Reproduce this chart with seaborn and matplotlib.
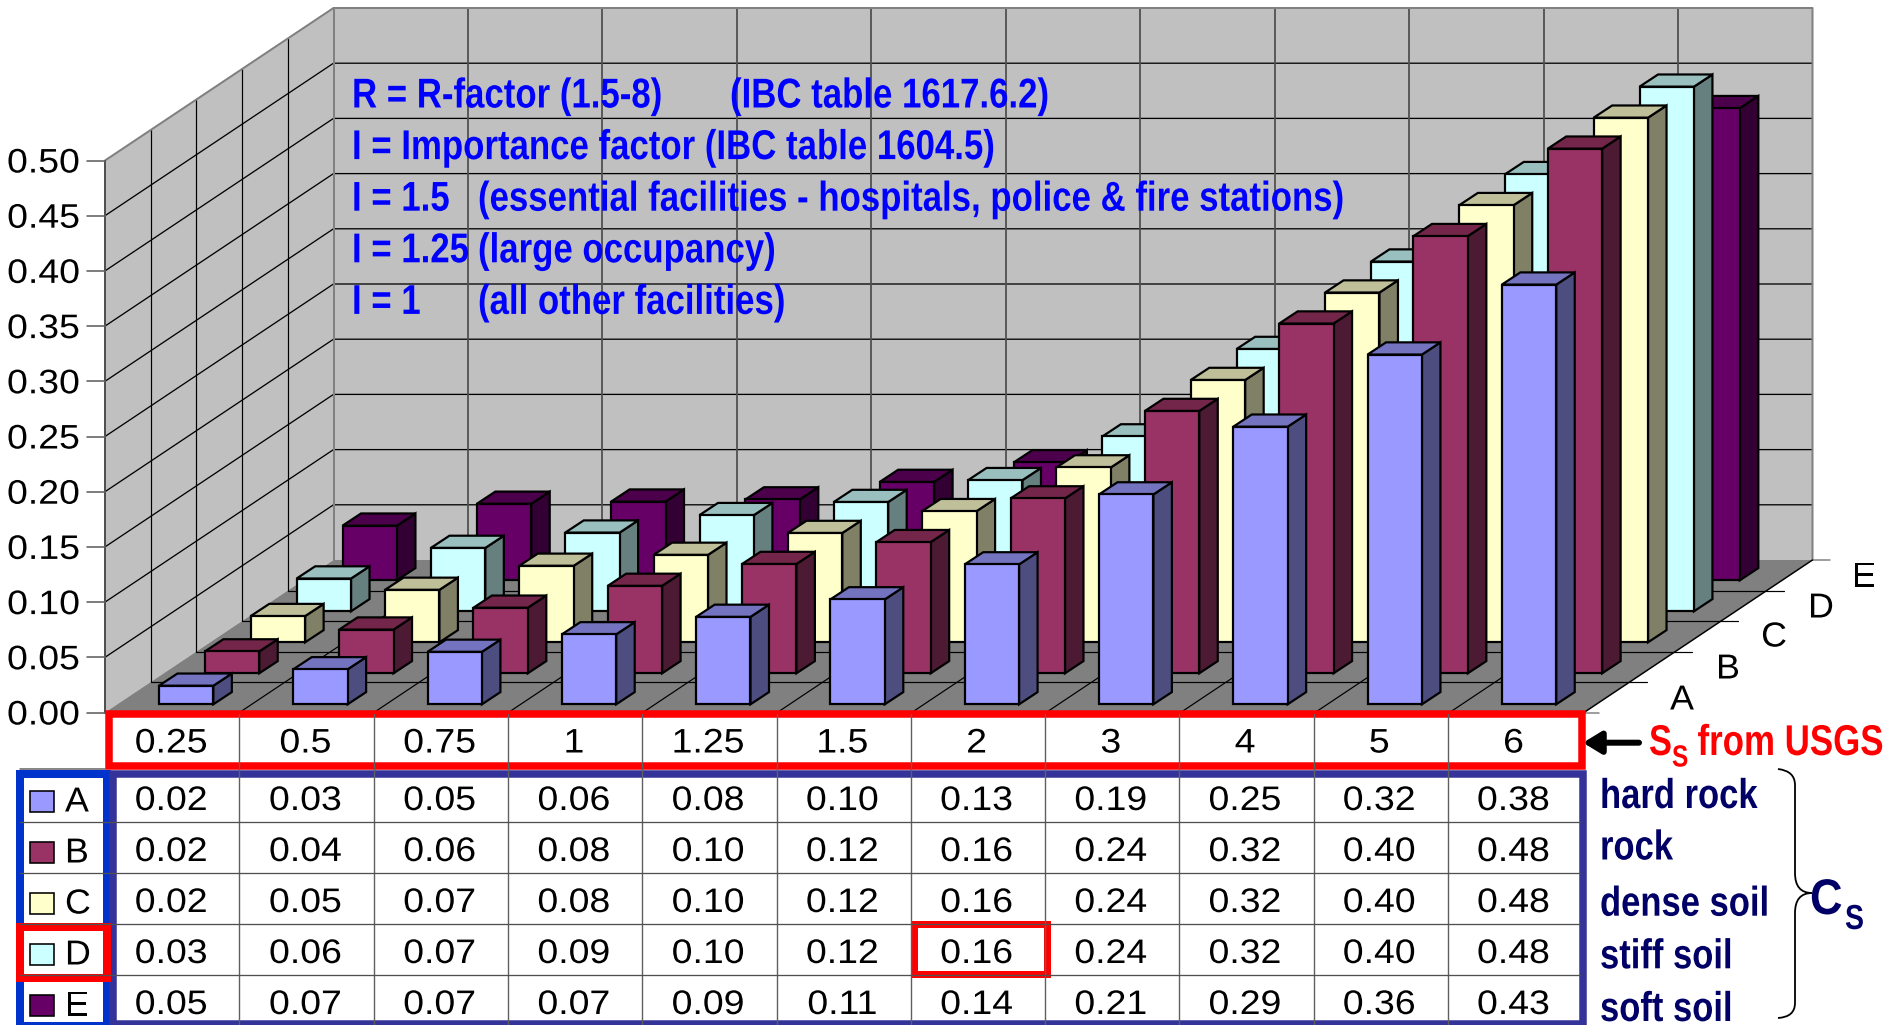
import matplotlib
matplotlib.use("Agg")
import matplotlib.pyplot as plt
from matplotlib.path import Path
from matplotlib.patches import PathPatch, Polygon, Rectangle
from matplotlib.patheffects import AbstractPathEffect
from matplotlib.transforms import Affine2D, Bbox
import pandas as pd
import seaborn as sns

# ---------- data ----------
ss_labels = ["0.25", "0.5", "0.75", "1", "1.25", "1.5", "2", "3", "4", "5", "6"]
site_classes = ["A", "B", "C", "D", "E"]
cs_a = [0.017, 0.032, 0.048, 0.064, 0.080, 0.096, 0.128, 0.192, 0.254, 0.320, 0.384]
cs_b = [0.020, 0.040, 0.060, 0.080, 0.100, 0.120, 0.160, 0.240, 0.320, 0.400, 0.480]
cs_c = [0.024, 0.048, 0.070, 0.080, 0.100, 0.120, 0.160, 0.240, 0.320, 0.400, 0.480]
cs_d = [0.030, 0.058, 0.072, 0.088, 0.100, 0.120, 0.160, 0.240, 0.320, 0.400, 0.480]
cs_e = [0.050, 0.070, 0.072, 0.074, 0.090, 0.108, 0.144, 0.214, 0.288, 0.360, 0.432]
all_cs = [cs_a, cs_b, cs_c, cs_d, cs_e]
value_ticks = [0.00, 0.05, 0.10, 0.15, 0.20, 0.25, 0.30, 0.35, 0.40, 0.45, 0.50]
soil_names = ["hard rock", "rock", "dense soil", "stiff soil", "soft soil"]
note_lines = [
    ("R = R-factor (1.5-8)", "(IBC table 1617.6.2)", 730),
    ("I = Importance factor (IBC table 1604.5)", "", 0),
    ("I = 1.5", "(essential facilities - hospitals, police & fire stations)", 478),
    ("I = 1.25", "(large occupancy)", 478),
    ("I = 1", "(all other facilities)", 478),
]
front_cols = ["#9999FF", "#993366", "#FFFFCC", "#CCFFFF", "#660066"]
side_cols = ["#4D4D80", "#4D1A33", "#808066", "#668080", "#330033"]
top_cols = ["#7373BF", "#732649", "#BFBF99", "#99BFBF", "#4C004C"]

# ---------- layout (pixels of the 1884x1025 figure) ----------
W, H = 1884, 1025
FX0, FX1, FY = 105.0, 1584.0, 712.5   # front floor edge
DX, DY = 228.5, 152.5                 # depth offset of the whole floor
TOPY = 160.5                          # y of 0.50 on the front plane
PXV = (FY - TOPY) / 0.5               # pixels per unit of value
N_CAT, N_DEP = len(ss_labels), len(site_classes)
CW = (FX1 - FX0) / N_CAT
DEPTH_STEP_X, DEPTH_STEP_Y = 45.9, 31.0
BAR_W, BAR_DX, BAR_DY = 0.405, 18.5, 12.2
BAR_LEFT_AX, BAR_BASE = 119.0, 704.3
BAR_CW = 134.29
BAR_SCALE = 0.99

sns.set_theme(style="white")
plt.rcParams["font.family"] = ["Liberation Sans", "DejaVu Sans"]
palette = sns.color_palette(front_cols)

fig = plt.figure(figsize=(W / 100, H / 100), dpi=100, facecolor="white")


def pixel_axes(z):
    ax = fig.add_axes([0, 0, 1, 1], zorder=z)
    ax.set_xlim(0, W)
    ax.set_ylim(H, 0)
    ax.set_axis_off()
    ax.patch.set_visible(False)
    return ax


px = lambda n: n * 0.72  # pixels to points at dpi 100


class HStretch(AbstractPathEffect):
    """Draw a text wider or narrower, keeping its anchor where the alignment put it."""

    def __init__(self, sx, anchor):
        super().__init__()
        self.sx, self.anchor = sx, anchor

    def draw_path(self, renderer, gc, tpath, affine, rgbFace=None):
        e = tpath.get_extents()
        ax0 = {"left": 0.0, "center": (e.x0 + e.x1) / 2, "right": e.x1}[self.anchor]
        t = Affine2D().translate(-ax0, 0).scale(self.sx, 1).translate(ax0, 0) + affine
        renderer.draw_path(gc, tpath, t, rgbFace)


def label(ax, x, y, s, sx=1.0, **kw):
    t = ax.text(x, y, s, **kw)
    anchor = kw.get("ha", "left")
    t.set_path_effects([HStretch(sx, anchor)])
    base = t.get_window_extent

    def extent(renderer=None, dpi=None):
        b = base(renderer, dpi)
        a = {"left": b.x0, "center": (b.x0 + b.x1) / 2, "right": b.x1}[anchor]
        return Bbox.from_extents(a + (b.x0 - a) * sx, b.y0, a + (b.x1 - a) * sx, b.y1)

    t.get_window_extent = extent
    return t


NUM = dict(fontsize=24.5, color="black")
NUM_SX = 1.1

# ---------- walls and floor ----------
bg = pixel_axes(0)
grey = "#808080"
bg.add_patch(Polygon([(FX0, FY), (FX0, TOPY), (FX0 + DX, TOPY - DY), (FX0 + DX, FY - DY)],
                     fc="#C0C0C0", ec="none"))
bg.add_patch(Rectangle((FX0 + DX, TOPY - DY), FX1 - FX0, FY - TOPY, fc="#C0C0C0", ec="none"))
bg.add_patch(Polygon([(FX0, FY), (FX0 + DX, FY - DY), (FX1 + DX, FY - DY), (FX1, FY)],
                     fc="#808080", ec="none"))
for v in value_ticks[1:-1]:
    y = FY - v * PXV
    bg.plot([FX0, FX0 + DX, FX1 + DX], [y, y - DY, y - DY], color="black", lw=px(1.3))
for k in range(1, N_DEP):
    x, dy = FX0 + DX * k / N_DEP, DY * k / N_DEP
    bg.plot([x, x], [FY - dy, TOPY - dy], color="black", lw=px(1.2))
    bg.plot([x, x + FX1 - FX0 + 17], [FY - dy, FY - dy], color="black", lw=px(1.2))
for i in range(1, N_CAT):
    x = FX0 + CW * i
    bg.plot([x + DX, x + DX], [FY - DY, TOPY - DY], color="#505050", lw=px(1.8))
    bg.plot([x, x + DX], [FY, FY - DY], color="black", lw=px(1.2))
bg.plot([FX0, FX0 + DX, FX1 + DX, FX1 + DX], [TOPY, TOPY - DY, TOPY - DY, FY - DY], color=grey, lw=px(2))
bg.plot([FX0 + DX, FX0 + DX], [TOPY - DY, FY - DY], color=grey, lw=px(2))
bg.plot([FX1 + DX, FX1 + DX + 17], [FY - DY, FY - DY], color=grey, lw=px(1.5))
bg.plot([FX1, FX1 + 15], [FY, FY], color=grey, lw=px(1.5))
bg.plot([FX1, FX1 + DX], [FY, FY - DY], color="black", lw=px(1.5))
bg.plot([FX0, FX0], [FY, TOPY], color="#505050", lw=px(2))
for v in value_ticks:
    y = FY - v * PXV
    bg.plot([FX0 - 18, FX0], [y, y], color="#606060", lw=px(1.6))
    label(bg, 80, y + 3.5, f"{v:.2f}", sx=NUM_SX, ha="right", va="center", **NUM)

# ---------- bars: one seaborn bar plot per site class, back to front ----------
for k in range(N_DEP - 1, -1, -1):
    left = BAR_LEFT_AX + DEPTH_STEP_X * k
    base = BAR_BASE - DEPTH_STEP_Y * k
    ax_h = 0.5 * PXV * BAR_SCALE
    ax = fig.add_axes([left / W, 1 - base / H, BAR_CW * N_CAT / W, ax_h / H], zorder=5 - k)
    df = pd.DataFrame({"Ss": ss_labels, "Cs": all_cs[k]})
    sns.barplot(data=df, x="Ss", y="Cs", order=ss_labels, ax=ax, color=palette[k], saturation=1,
                width=BAR_W, errorbar=None, edgecolor="black", linewidth=px(2.2), zorder=3)
    ax.set_xlim(-0.5, N_CAT - 0.5)
    ax.set_ylim(0, 0.5)
    ax.set_axis_off()
    ax.patch.set_visible(False)
    ddx, ddy = BAR_DX / BAR_CW, BAR_DY / (2 * ax_h)
    for bar in list(ax.patches):
        x0, w, h = bar.get_x(), bar.get_width(), bar.get_height()
        x1 = x0 + w
        bar.set_joinstyle("miter")
        ax.add_patch(Polygon([(x1, 0), (x1 + ddx, ddy), (x1 + ddx, h + ddy), (x1, h)], closed=True,
                             fc=side_cols[k], ec="black", lw=px(2.2), clip_on=False, zorder=2))
        ax.add_patch(Polygon([(x0, h), (x0 + ddx, h + ddy), (x1 + ddx, h + ddy), (x1, h)], closed=True,
                             fc=top_cols[k], ec="black", lw=px(2.2), clip_on=False, zorder=2))
        bar.set_clip_on(False)

# ---------- table, legend and notes ----------
fg = pixel_axes(20)
COL0, COLSTEP = 171.3, 134.22
ROW_Y = [799, 850, 901, 952, 1003]
ROW_LINES = [821.7, 873.3, 924.3, 975.3]
COL_LINES = [239.3 + 134.3 * i for i in range(N_CAT - 1)]

fg.add_patch(Rectangle((109, 714), 1473, 52, fc="white", ec="none"))
fg.add_patch(Rectangle((20, 774), 1563, 250, fc="white", ec="none"))
for x in COL_LINES:
    fg.plot([x, x], [714, 1024], color="#606060", lw=px(1.4))
for y in ROW_LINES:
    fg.plot([20, 1580], [y, y], color="#505050", lw=px(1.3))
fg.plot([20, 105], [769, 769], color="#606060", lw=px(1.5))

fg.add_patch(Rectangle((109, 714), 1473, 52, fc="none", ec="#FF0000", lw=px(7.5), joinstyle="miter"))
fg.add_patch(Rectangle((20, 774), 87, 252, fc="none", ec="#0033CC", lw=px(8), joinstyle="miter"))
fg.add_patch(Rectangle((113, 773.5), 1470, 250, fc="none", ec="#333399", lw=px(7.5), joinstyle="miter"))

for i, lab in enumerate(ss_labels):
    label(fg, COL0 + COLSTEP * i, 744, lab, sx=NUM_SX, ha="center", va="center", **NUM)
for k, row in enumerate(all_cs):
    y = ROW_Y[k]
    for i, v in enumerate(row):
        label(fg, COL0 + COLSTEP * i, y + 2.5, f"{v:.2f}", sx=NUM_SX, ha="center", va="center", **NUM)
    fg.add_patch(Rectangle((29.5, y - 8), 24.5, 21, fc=front_cols[k], ec="black", lw=px(1.6)))
    label(fg, 65, y + 3, site_classes[k], sx=1.03, ha="left", va="center", fontsize=25, color="black")

fg.add_patch(Rectangle((20, 927), 86.5, 50.5, fc="none", ec="#FF0000", lw=px(8), joinstyle="miter"))
fg.add_patch(Rectangle((914, 924), 133, 50, fc="none", ec="#FF0000", lw=px(7), joinstyle="miter"))

# depth-axis letters
for lab, (x, y) in zip(site_classes, [(1682, 700), (1728, 669), (1774, 637), (1821, 608), (1864, 577)]):
    label(fg, x, y, lab, sx=1.03, ha="center", va="center", fontsize=25, color="black")

# blue notes
BLUE = "#0000FF"
BOLD = dict(weight="bold", va="baseline")
for n, (a, b, bx) in enumerate(note_lines):
    y = 107.5 + 51.6 * n
    label(fg, 352, y, a, sx=0.835, fontsize=30, color=BLUE, **BOLD)
    if b:
        label(fg, bx, y, b, sx=0.835, fontsize=30, color=BLUE, **BOLD)

# Ss annotation
RED = "#FF0000"
fg.annotate("", xy=(1583, 742.7), xytext=(1639, 742.7),
            arrowprops=dict(arrowstyle="-|>,head_length=0.9,head_width=0.55", color="black", lw=px(6),
                            shrinkA=0, shrinkB=0))
label(fg, 1649, 755, "S", sx=0.8, fontsize=31, color=RED, **BOLD)
label(fg, 1672, 766.5, "S", sx=0.8, fontsize=22, color=RED, **BOLD)
label(fg, 1697.5, 755, "from USGS", sx=0.81, fontsize=31, color=RED, **BOLD)

# soil names, brace and Cs
NAVY = "#000066"
for name, y in zip(soil_names, [808, 859.5, 915.7, 968.3, 1021]):
    label(fg, 1600, y, name, sx=0.83, fontsize=30, color=NAVY, **BOLD)
verts = [(1778, 769), (1795, 771), (1795, 785), (1795, 873), (1795, 893), (1812, 893),
         (1795, 893), (1795, 913), (1795, 1003), (1795, 1017), (1778, 1018)]
codes = [Path.MOVETO, Path.CURVE3, Path.CURVE3, Path.LINETO, Path.CURVE3, Path.CURVE3,
         Path.CURVE3, Path.CURVE3, Path.LINETO, Path.CURVE3, Path.CURVE3]
fg.add_patch(PathPatch(Path(verts, codes), fc="none", ec="black", lw=px(1.8)))
label(fg, 1810, 914, "C", sx=0.9, fontsize=36, color=NAVY, **BOLD)
label(fg, 1845, 929, "S", sx=0.82, fontsize=25, color=NAVY, **BOLD)

fig.savefig("out.png", dpi=100)
